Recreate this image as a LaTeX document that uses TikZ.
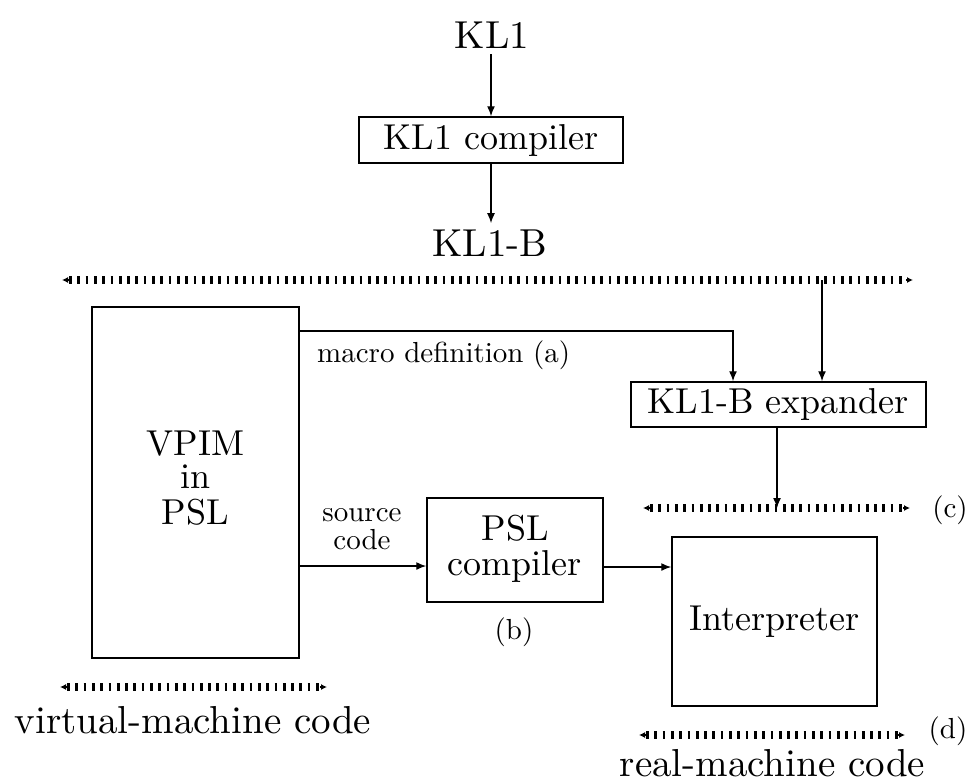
\documentclass[tikz,border=0pt]{standalone}
\usetikzlibrary{arrows.meta}

% text at three magnifications of the 10pt roman
\newcommand\txtL[1]{\scalebox{3.9}{#1}}
\newcommand\txtM[1]{\scalebox{3.6}{#1}}
\newcommand\txtS[1]{\scalebox{2.9}{#1}}

% dotted double-headed level line between two named coordinates
\newcommand\levelline[2]{%
  \draw[ticks] ([xshift=7pt]#1) -- ([xshift=-7pt]#2);
  \draw[tip] ([xshift=7pt]#1) -- (#1);
  \draw[tip] ([xshift=-7pt]#2) -- (#2);
}

\begin{document}
\begin{tikzpicture}[x=1pt,y=-1pt,
  box/.style={draw, line width=1.5pt, inner sep=0pt},
  lbl/.style={inner sep=6pt},
  conn/.style={line width=1.4pt, -{Latex[length=10pt,width=8pt]}},
  ticks/.style={line width=8pt, dash pattern=on 2.7pt off 5.6pt},
  tip/.style={line width=1.2pt, -{Latex[length=6pt,width=6pt]}}]
\useasboundingbox (0,0) rectangle (968,782);

% source language and its compiler
\node[lbl, anchor=base] (kl1) at (492,48) {\txtL{KL1}};
\node[box, minimum width=264pt, minimum height=46pt] (klc) at (491,140) {\txtM{KL1 compiler}};
\node[lbl, anchor=base] (klb) at (490,256) {\txtL{KL1-B}};
\draw[conn] (kl1.south -| klc.north) -- (klc.north);
\draw[conn] (klc.south) -- (klc.south |- klb.north);

% KL1-B level
\coordinate (tl) at (62,280);
\coordinate (tr) at (913,280);
\levelline{tl}{tr}

% virtual machine
\node[box, minimum width=207pt, minimum height=351pt] (vpim) at (195.5,482.5)
  {\txtM{\renewcommand\arraystretch{0.77}\begin{tabular}{@{}c@{}}VPIM\\in\\PSL\end{tabular}}};

% expander
\node[box, minimum width=295pt, minimum height=45pt] (exp) at (778.5,404.5) {\txtM{KL1-B expander}};
\coordinate (mdy) at (0,331);
\draw[conn] (vpim.east |- mdy) -| ([xshift=-45.5pt]exp.north);
\node[anchor=base west, inner sep=0pt] (mdef) at (317,362) {\txtS{macro definition (a)}};
\draw[conn] ([xshift=43.5pt]exp.north |- tl) -- ([xshift=43.5pt]exp.north);

% level (c)
\coordinate (cl) at (643,508);
\coordinate (cr) at (910,508);
\levelline{cl}{cr}
\node (lc) at (950,510) {\txtS{(c)}};
\draw[conn] ([xshift=-1.5pt]exp.south) -- ([xshift=-1.5pt]exp.south |- cl);

% PSL compiler and interpreter
\node[box, minimum width=176pt, minimum height=104pt] (psl) at (515,550)
  {\txtM{\renewcommand\arraystretch{0.77}\begin{tabular}{@{}c@{}}PSL\\compiler\end{tabular}}};
\node (lb) at (514,632) {\txtS{(b)}};
\node (src) at (362,530)
  {\txtS{\renewcommand\arraystretch{0.8}\begin{tabular}{@{}c@{}}source\\code\end{tabular}}};
\coordinate (sy) at (0,566);
\draw[conn] (vpim.east |- sy) -- (psl.west |- sy);

\node[box, minimum width=205pt, minimum height=169pt] (int) at (774.5,621.5) {\txtM{Interpreter}};
\coordinate (iy) at (0,567);
\draw[conn] (psl.east |- iy) -- (int.west |- iy);

% virtual-machine code level
\coordinate (vl) at (60,687);
\coordinate (vr) at (327,687);
\levelline{vl}{vr}
\node[anchor=base, inner sep=0pt] (vmc) at (193,733) {\txtL{virtual-machine code}};

% real-machine code level (d)
\coordinate (dl) at (639,735);
\coordinate (dr) at (905,735);
\levelline{dl}{dr}
\node (ld) at (948,731) {\txtS{(d)}};
\node[anchor=base, inner sep=0pt] (rmc) at (772.5,776) {\txtL{real-machine code}};
\end{tikzpicture}
\end{document}
